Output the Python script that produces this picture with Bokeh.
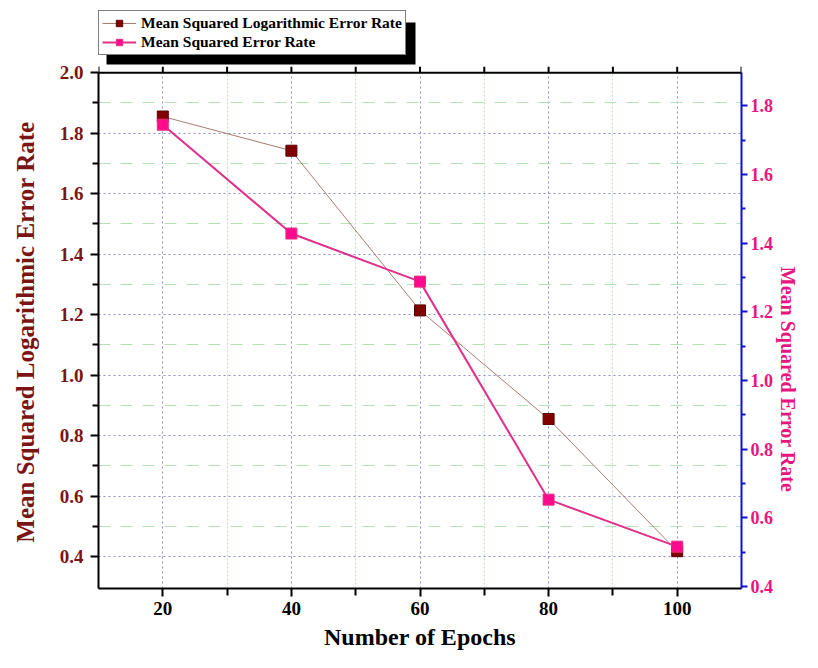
from bokeh.plotting import figure
from bokeh.models import (Range1d, LinearAxis, FixedTicker, Legend, LegendItem,
                          BoxAnnotation, Span, NumeralTickFormatter)
from bokeh.embed import file_html
from bokeh.resources import INLINE

epochs = [20, 40, 60, 80, 100]
msle = [1.855, 1.742, 1.214, 0.855, 0.418]
mse = [1.745, 1.428, 1.288, 0.653, 0.516]

x_major = [20, 40, 60, 80, 100]
x_minor = [30, 50, 70, 90]
top_ticks = [10, 20, 30, 40, 50, 60, 70, 80, 90, 100, 110]
left_major = [0.4, 0.6, 0.8, 1.0, 1.2, 1.4, 1.6, 1.8, 2.0]
left_minor = [0.5, 0.7, 0.9, 1.1, 1.3, 1.5, 1.7, 1.9]
right_major = [0.4, 0.6, 0.8, 1.0, 1.2, 1.4, 1.6, 1.8]
right_minor = [0.5, 0.7, 0.9, 1.1, 1.3, 1.5, 1.7]

FONT = "Liberation Serif"
DARKRED = "#7b1414"
PINK = "#e8157f"
BLUE = "#1010d0"
NB = "\u00a0"

# the plotting frame runs up to the top of the canvas so that the legend sits
# inside it; the visible box ends at y = 2.0 (left scale)
Y_LO, Y_TOP, Y_HI = 0.2946, 2.0, 2.2386
R_LO, R_TOP, R_HI = 0.3942, 1.8978, 2.1068

p = figure(width=802, height=652, output_backend="svg", toolbar_location=None,
           x_range=Range1d(10, 110), y_range=Range1d(Y_LO, Y_HI),
           min_border_left=98, min_border_right=60, min_border_top=0,
           min_border_bottom=62)
p.extra_y_ranges = {"right": Range1d(R_LO, R_HI)}
p.outline_line_color = None
p.background_fill_color = "white"

fmt = NumeralTickFormatter(format="0.0")

# bottom axis
xt = FixedTicker(ticks=x_major, minor_ticks=x_minor)
xa = p.xaxis[0]
xa.ticker = xt
xa.axis_label = "Number of Epochs"
xa.axis_label_text_font = FONT
xa.axis_label_text_font_style = "bold"
xa.axis_label_text_font_size = "24px"
xa.axis_label_text_color = "black"
xa.axis_label_standoff = 6
xa.major_label_text_font = FONT
xa.major_label_text_font_style = "bold"
xa.major_label_text_font_size = "19px"
xa.major_label_text_color = "black"
xa.major_label_standoff = 5
xa.axis_line_width = 2
xa.major_tick_line_width = 2
xa.minor_tick_line_width = 2
xa.major_tick_in = 0
xa.major_tick_out = 8
xa.minor_tick_in = 0
xa.minor_tick_out = 7

# left axis
yt = FixedTicker(ticks=left_major, minor_ticks=left_minor)
ya = p.yaxis[0]
ya.ticker = yt
ya.bounds = (Y_LO, Y_TOP)
ya.formatter = fmt
ya.axis_label = "Mean Squared Logarithmic Error Rate" + NB * 12
ya.axis_label_text_font = FONT
ya.axis_label_text_font_style = "bold"
ya.axis_label_text_font_size = "25px"
ya.axis_label_text_color = DARKRED
ya.axis_label_standoff = 18
ya.major_label_text_font = FONT
ya.major_label_text_font_style = "bold"
ya.major_label_text_font_size = "19px"
ya.major_label_text_color = DARKRED
ya.major_label_standoff = 7
ya.axis_line_width = 2
ya.major_tick_line_width = 2
ya.minor_tick_line_width = 2
ya.major_tick_in = 0
ya.major_tick_out = 8
ya.minor_tick_in = 0
ya.minor_tick_out = 6

# right axis
ra = LinearAxis(y_range_name="right", bounds=(R_LO, R_TOP),
                ticker=FixedTicker(ticks=right_major, minor_ticks=right_minor),
                formatter=fmt,
                axis_label=NB * 34 + "Mean Squared Error Rate",
                axis_label_text_font=FONT, axis_label_text_font_style="bold",
                axis_label_text_font_size="20px", axis_label_text_color=PINK,
                axis_label_standoff=1,
                major_label_text_font=FONT, major_label_text_font_style="bold",
                major_label_text_font_size="18px", major_label_text_color=PINK,
                major_label_standoff=3,
                axis_line_color=BLUE, axis_line_width=2,
                major_tick_line_color=BLUE, major_tick_line_width=2,
                minor_tick_line_color=BLUE, minor_tick_line_width=2,
                major_tick_in=0, major_tick_out=6, minor_tick_in=0, minor_tick_out=4)
p.add_layout(ra, "right")

# grids
p.xgrid.ticker = xt
p.ygrid.ticker = yt
for g in (p.xgrid[0], p.ygrid[0]):
    g.grid_line_color = "#8c8cc8"
    g.grid_line_dash = "2 3"
    g.grid_line_width = 1
    g.minor_grid_line_color = "#b4e2b4"
    g.minor_grid_line_dash = "2 2"
    g.minor_grid_line_width = 1
p.ygrid[0].minor_grid_line_dash = "12 10"

# white cover above the top of the box, and the top border with its ticks
p.add_layout(BoxAnnotation(bottom=Y_TOP, fill_color="white", fill_alpha=1.0,
                           line_color=None, level="underlay"))
p.add_layout(Span(location=Y_TOP, dimension="width", line_color="black",
                  line_width=2))
tick_len = 6 * (Y_HI - Y_LO) / 590.0
p.segment(x0=top_ticks, x1=top_ticks, y0=[Y_TOP] * len(top_ticks),
          y1=[Y_TOP + tick_len] * len(top_ticks), line_color="black", line_width=2)

# legend shadow
p.add_layout(BoxAnnotation(left=106, right=415, top=22, bottom=64,
                           left_units="canvas", right_units="canvas",
                           top_units="canvas", bottom_units="canvas",
                           fill_color="black", fill_alpha=1.0, line_color=None))

# data
l1 = p.line(epochs, msle, line_color="#a87c70", line_width=1)
s1 = p.scatter(epochs, msle, marker="square", size=11, fill_color="#800000",
               line_color="#5a0000", line_width=1)
l2 = p.line(epochs, mse, line_color="#e0308c", line_width=2, y_range_name="right")
s2 = p.scatter(epochs, mse, marker="square", size=11, fill_color="#ff0a8c",
               line_color="#e0307f", line_width=1, y_range_name="right")

legend = Legend(items=[
    LegendItem(label="Mean Squared Logarithmic Error Rate", renderers=[l1, s1]),
    LegendItem(label="Mean Squared Error Rate", renderers=[l2, s2]),
], location=(0, 533), orientation="vertical",
    label_text_font=FONT, label_text_font_style="bold", label_text_font_size="15.5px",
    label_text_color="black", label_height=16, label_standoff=5,
    glyph_width=34, glyph_height=16, spacing=1, padding=3, margin=0,
    border_line_color="black", border_line_width=1,
    background_fill_color="white", background_fill_alpha=1.0)
p.add_layout(legend, "center")

open("out.html", "w").write(file_html(p, INLINE))
